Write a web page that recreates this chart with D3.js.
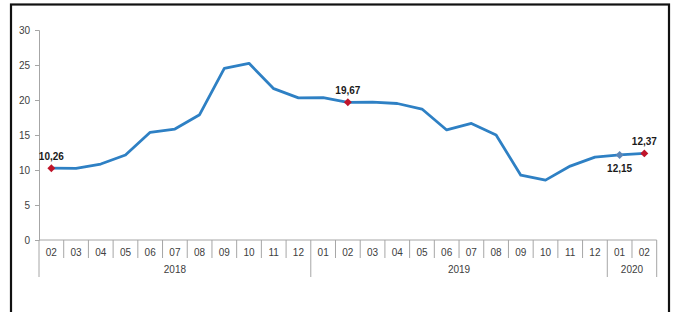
<!DOCTYPE html>
<html>
<head>
<meta charset="utf-8">
<script src="https://cdn.jsdelivr.net/npm/d3@7"></script>
<style>
  body { margin: 0; background: #fff; }
  svg { display: block; font-family: "Liberation Sans", Arial, sans-serif; }
</style>
</head>
<body>
<div class="canvas"></div>
<script>
const months = ['02','03','04','05','06','07','08','09','10','11','12',
                '01','02','03','04','05','06','07','08','09','10','11','12',
                '01','02'];
const years = ['2018','2018','2018','2018','2018','2018','2018','2018','2018','2018','2018',
               '2019','2019','2019','2019','2019','2019','2019','2019','2019','2019','2019','2019',
               '2020','2020'];
const values = [10.26, 10.23, 10.85, 12.15, 15.39, 15.85, 17.90, 24.52, 25.24, 21.62, 20.30,
                20.35, 19.67, 19.71, 19.50, 18.71, 15.72, 16.65, 15.01, 9.26, 8.55, 10.56, 11.84,
                12.15, 12.37];
const yTicks = [0, 5, 10, 15, 20, 25, 30];
// points with a marker and value label
const marked = [
  { i: 0, color: '#c0142a', pos: 'above' },
  { i: 12, color: '#c0142a', pos: 'above' },
  { i: 23, color: '#5b86b8', pos: 'below' },
  { i: 24, color: '#c0142a', pos: 'above' }
];

const dims = { width: 675, height: 312 };
const svg = d3.select('.canvas').append('svg')
    .attr('width', dims.width)
    .attr('height', dims.height);

const data = values.map((v, i) => ({ i, v, month: months[i], year: years[i] }));

const x = d3.scaleBand()
    .domain(d3.range(values.length))
    .range([39, 656.7])
    .paddingInner(0).paddingOuter(0);

const y = d3.scaleLinear().domain([0, 30]).range([240, 30]);

const axisColor = '#a6a6a6';
const textColor = '#404040';

// outer frame
svg.append('rect')
    .attr('x', 11).attr('y', 4.5)
    .attr('width', 658).attr('height', 330)
    .attr('fill', 'none')
    .attr('stroke', '#111')
    .attr('stroke-width', 2.2);

// y axis
const yAxis = svg.append('g')
    .attr('transform', 'translate(39,0)')
    .call(d3.axisLeft(y).tickValues(yTicks).tickSize(4).tickPadding(5).tickFormat(d3.format('d')));
yAxis.select('.domain').attr('stroke', axisColor);
yAxis.selectAll('.tick line').attr('stroke', axisColor);
yAxis.selectAll('.tick text').attr('fill', textColor).attr('font-size', 10);

// x axis baseline
svg.append('line')
    .attr('x1', 39).attr('x2', 656.7)
    .attr('y1', y(0)).attr('y2', y(0))
    .attr('stroke', axisColor);

// category boundaries
const bounds = d3.range(values.length + 1);
svg.append('g').selectAll('line')
    .data(bounds)
    .enter().append('line')
    .attr('x1', i => i < values.length ? x(i) : x(values.length - 1) + x.bandwidth())
    .attr('x2', i => i < values.length ? x(i) : x(values.length - 1) + x.bandwidth())
    .attr('y1', y(0))
    .attr('y2', i => (i === 0 || i === values.length || years[i] !== years[i - 1]) ? 277 : 258)
    .attr('stroke', axisColor);

// month labels
svg.append('g').selectAll('text')
    .data(data)
    .enter().append('text')
    .attr('x', d => x(d.i) + x.bandwidth() / 2)
    .attr('y', 255.5)
    .attr('text-anchor', 'middle')
    .attr('font-size', 10)
    .attr('fill', textColor)
    .text(d => d.month);

// year labels
const yearGroups = d3.groups(data, d => d.year);
svg.append('g').selectAll('text')
    .data(yearGroups)
    .enter().append('text')
    .attr('x', g => {
      const first = g[1][0].i, last = g[1][g[1].length - 1].i;
      return (x(first) + x(last) + x.bandwidth()) / 2;
    })
    .attr('y', 273)
    .attr('text-anchor', 'middle')
    .attr('font-size', 10)
    .attr('fill', textColor)
    .text(g => g[0]);

// line
const line = d3.line()
    .x(d => x(d.i) + x.bandwidth() / 2)
    .y(d => y(d.v));

svg.append('path')
    .datum(data)
    .attr('fill', 'none')
    .attr('stroke', '#2e80c4')
    .attr('stroke-width', 2.8)
    .attr('stroke-linejoin', 'round')
    .attr('d', line);

// markers
const fmt = v => d3.format('.2f')(v).replace('.', ',');
const mk = svg.append('g').selectAll('g')
    .data(marked)
    .enter().append('g')
    .attr('transform', m => `translate(${x(m.i) + x.bandwidth() / 2},${y(values[m.i])})`);

mk.append('path')
    .attr('d', d3.symbol().type(d3.symbolDiamond2).size(40))
    .attr('fill', m => m.color);

mk.append('text')
    .attr('y', m => m.pos === 'above' ? -8 : 17)
    .attr('text-anchor', 'middle')
    .attr('font-size', 10)
    .attr('font-weight', 'bold')
    .attr('fill', '#1a1a1a')
    .text(m => fmt(values[m.i]));
</script>
</body>
</html>
